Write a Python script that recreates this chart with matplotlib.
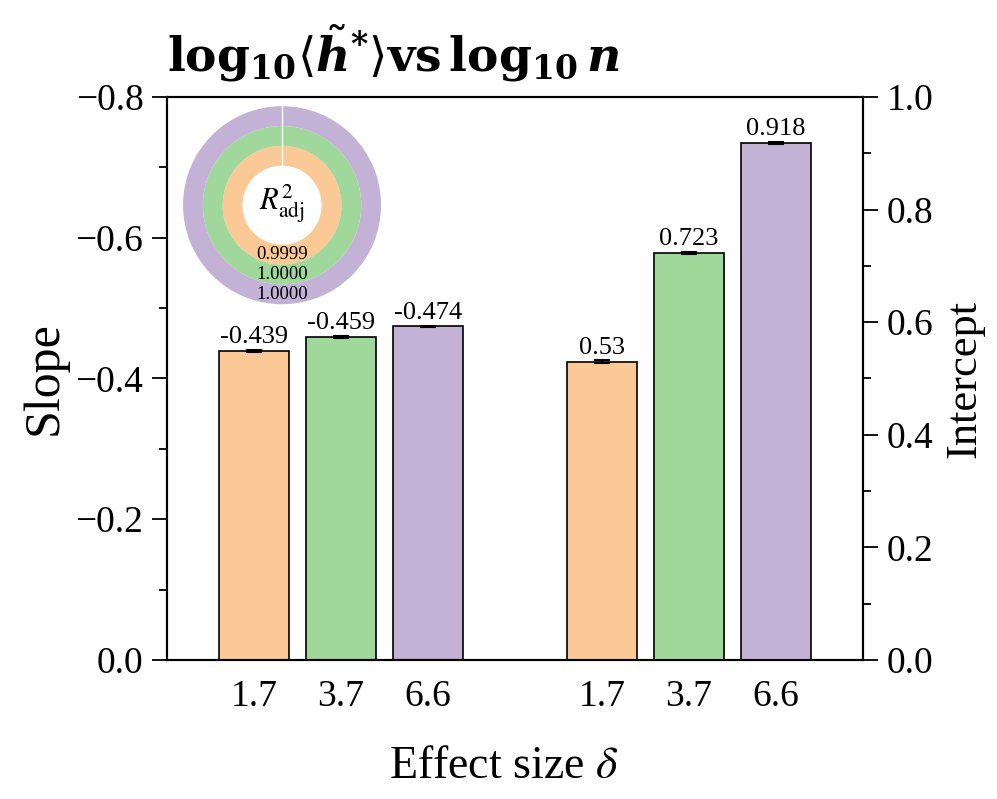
import matplotlib
matplotlib.use("Agg")
import matplotlib.pyplot as plt
import numpy as np
from matplotlib.ticker import MultipleLocator

plt.rcParams['font.family'] = ['Liberation Serif', 'DejaVu Serif']
plt.rcParams['mathtext.fontset'] = 'cm'
plt.rcParams['mathtext.rm'] = 'DejaVu Serif'
plt.rcParams['mathtext.it'] = 'DejaVu Serif:italic'
plt.rcParams['mathtext.bf'] = 'DejaVu Serif:bold'
plt.rcParams['mathtext.bfit'] = 'DejaVu Serif:italic:bold'

# ---- data ----
effect_labels = ["1.7", "3.7", "6.6"]
slope_values = [-0.439, -0.459, -0.474]
slope_errors = [0.001, 0.001, 0.001]
intercept_values = [0.53, 0.723, 0.918]
intercept_errors = [0.002, 0.002, 0.002]
slope_text = ["-0.439", "-0.459", "-0.474"]
intercept_text = ["0.53", "0.723", "0.918"]
r2_values = [0.9999, 1.0000, 1.0000]
r2_text = ["0.9999", "1.0000", "1.0000"]
colors = ["#FBC996", "#A0D89C", "#C3B1D6"]

slope_pos = [0, 1, 2]
intercept_pos = [4, 5, 6]

fig = plt.figure(figsize=(9.97, 7.99), dpi=100)
ax = fig.add_axes([0.1675, 0.174, 0.698, 0.7046])
ax2 = ax.twinx()

bw = 0.8
ax.bar(slope_pos, slope_values, width=bw, color=colors, edgecolor='black', linewidth=1.2,
       yerr=slope_errors, capsize=6, error_kw=dict(elinewidth=1.5, capthick=1.5, ecolor='black'))
ax2.bar(intercept_pos, intercept_values, width=bw, color=colors, edgecolor='black', linewidth=1.2,
        yerr=intercept_errors, capsize=6, error_kw=dict(elinewidth=1.5, capthick=1.5, ecolor='black'))

for x, v, t in zip(slope_pos, slope_values, slope_text):
    ax.text(x, v - 0.004, t, ha='center', va='bottom', fontsize=19)
for x, v, t in zip(intercept_pos, intercept_values, intercept_text):
    ax2.text(x, v + 0.005, t, ha='center', va='bottom', fontsize=19)

ax.set_xlim(-1, 7)
ax.set_ylim(0, -0.8)
ax2.set_ylim(0, 1.0)

ax.set_xticks(slope_pos + intercept_pos)
ax.set_xticklabels(effect_labels + effect_labels, fontsize=27)
ax.tick_params(axis='x', length=0, pad=14)

ax.yaxis.set_major_locator(MultipleLocator(0.2))
ax.yaxis.set_minor_locator(MultipleLocator(0.1))
ax.set_yticks([0, -0.2, -0.4, -0.6, -0.8])
ax.set_yticklabels(["0.0", "\u22120.2", "\u22120.4", "\u22120.6", "\u22120.8"])
ax2.yaxis.set_major_locator(MultipleLocator(0.2))
ax2.yaxis.set_minor_locator(MultipleLocator(0.1))

for a in (ax, ax2):
    a.tick_params(axis='y', which='major', direction='out', length=11, width=1.3, labelsize=27, pad=6)
    a.tick_params(axis='y', which='minor', direction='out', length=6, width=1.3)
    for s in a.spines.values():
        s.set_linewidth(1.5)

ax.set_ylabel("Slope", fontsize=36, labelpad=6)
ax2.set_ylabel("Intercept", fontsize=32, labelpad=8)
ax.set_xlabel(r"Effect size $\delta$", fontsize=33, math_fontfamily='stix')
ax.xaxis.set_label_coords(0.484, -0.152)

ax.set_title(r"$\mathbf{log}_{\mathbf{10}}\langle\tilde{\boldsymbol{h}}^{\boldsymbol{*}}\rangle\mathbf{vs}\,\mathbf{log}_{\mathbf{10}}\,\boldsymbol{n}$",
             loc='left', fontsize=34, pad=18, math_fontfamily='custom')

# ---- donut inset ----
iax = fig.add_axes([0.1826, 0.618, 0.2006, 0.2503])
iax.set_aspect('equal')
radii = [0.60, 0.80, 1.0]
ring_w = 0.20
for r2, rad, c in zip(r2_values, radii, colors):
    vals = [r2, max(1 - r2, 0)]
    iax.pie(vals, radius=rad, colors=[c, 'white'], startangle=90, counterclock=False,
            wedgeprops=dict(width=ring_w, edgecolor='none', linewidth=0))
# thin white seam at the start angle (top) through all rings
iax.plot([0, 0], [radii[0] - ring_w, radii[-1]], color='white', lw=1.0)
for t, rad in zip(r2_text, radii):
    iax.text(0, -(rad - ring_w / 2), t, ha='center', va='center', fontsize=13.5)
iax.text(0, 0.02, r"$R^2_{\mathrm{adj}}$", ha='center', va='center', fontsize=22,
         math_fontfamily='stix')
iax.set_xlim(-1.01, 1.01)
iax.set_ylim(-1.01, 1.01)

fig.savefig("out.png", dpi=100)
